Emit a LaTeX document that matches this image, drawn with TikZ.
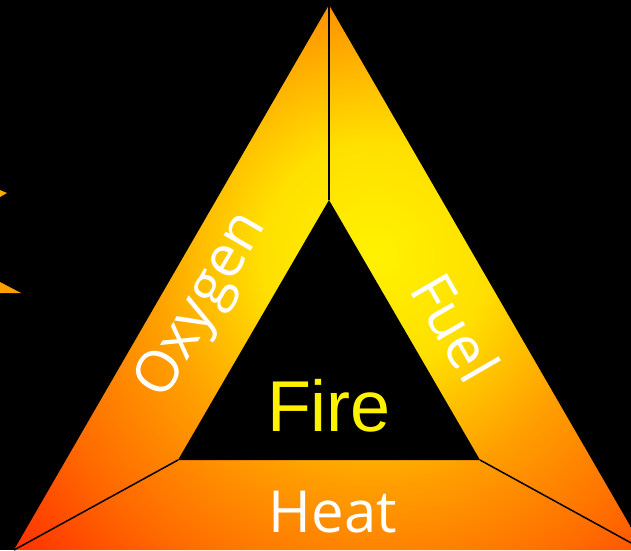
\documentclass[tikz,border=0pt]{standalone}
\usepackage{fontspec}
\setmainfont{Liberation Sans}
\newfontfamily\labfont{Open Sans}
\definecolor{fy}{HTML}{FFF200}
\definecolor{fy2}{HTML}{FFE000}
\definecolor{fo}{HTML}{FFA000}
\definecolor{fo2}{HTML}{FF6A00}
\definecolor{fr}{HTML}{FF2E00}
\definecolor{spark}{HTML}{FFAA00}
\pgfdeclareradialshading{fireglow}{\pgfpoint{0bp}{0bp}}{color(0bp)=(fy); color(6bp)=(fy2); color(12bp)=(fo); color(18.75bp)=(fo2); color(25bp)=(fr); color(50bp)=(fr)}
\begin{document}
\begin{tikzpicture}[x=1pt,y=-1pt,
  sidelabel/.style={text=white,font=\labfont\fontsize{58}{58}\selectfont,inner sep=0pt},
  centerlabel/.style={text=fy,font=\fontsize{72}{72}\selectfont,inner sep=0pt},
  divider/.style={draw=black,line width=1.5pt}]
\fill[black] (0,0) rectangle (631,550);
\useasboundingbox (0,0) rectangle (631,550);
% outer and inner corners
\coordinate (OT) at (329,5);
\coordinate (OL) at (14,550);
\coordinate (OR) at (644,550);
\coordinate (IT) at (329,200);
\coordinate (IL) at (178,460);
\coordinate (IR) at (480,460);
\begin{scope}
  \clip (OT) -- (OL) -- (OR) -- cycle;
  \shade[shading=fireglow] (375,255) circle [radius=470pt];
\end{scope}
\fill[black] (IT) -- (IL) -- (IR) -- cycle;
\draw[divider] (OT) -- (IT);
\draw[divider] (OL) -- (IL);
\draw[divider] (OR) -- (IR);
% small sparks at left edge
\fill[spark] (0,190) -- (7,193) -- (0,197) -- cycle;
\fill[fo] (0,282) -- (21,293) -- (0,293) -- cycle;
% labels
\node[sidelabel,rotate=60] (oxy) at (203,306) {Oxygen};
\node[sidelabel,rotate=-60] (fuel) at (456,327) {Fuel};
\node[sidelabel] (heat) at (333,512) {Heat};
\node[centerlabel] (fire) at (329,406) {Fire};
\end{tikzpicture}
\end{document}
